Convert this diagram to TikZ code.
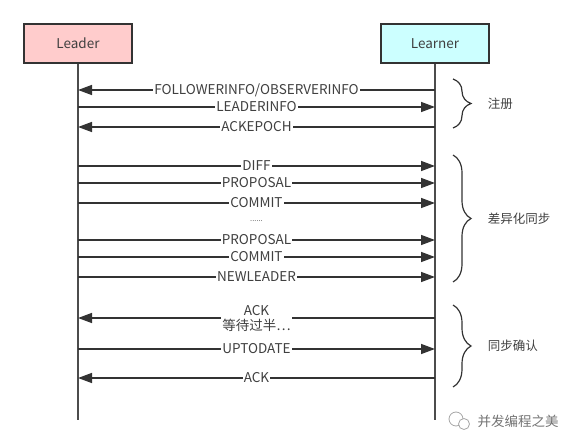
\documentclass[tikz,border=0pt]{standalone}
\usepackage{fontspec}
\setmainfont{Noto Sans CJK SC}
\usepackage{tikz}
\usetikzlibrary{arrows.meta,positioning,decorations.pathreplacing}
\tikzset{>={Triangle[length=14pt,width=10pt]}}
\definecolor{inkgray}{HTML}{333333}
\definecolor{leaderpink}{HTML}{FFCCCC}
\definecolor{learnercyan}{HTML}{CCFFFF}
\tikzset{
  % boxes at the top of the two lifelines
  actor/.style={draw=inkgray, line width=1.5pt, minimum width=108pt, minimum height=39pt,
    font=\fontsize{13.5}{15}\selectfont, text=black!75},
  lifeline/.style={draw=black!70, line width=1.5pt},
  msg/.style={draw=inkgray, line width=1.5pt},
  tag/.style={fill=white, inner sep=1pt, align=center, font=\fontsize{13.5}{15}\selectfont, text=black!75},
  phase/.style={draw=inkgray, line width=1.2pt, decorate, decoration={brace, amplitude=18pt}},
  phasetag/.style={anchor=west, font=\fontsize{12.5}{14}\selectfont, text=black!75},
}

\begin{document}
\begin{tikzpicture}[x=1pt,y=-1pt]
                \useasboundingbox (0,0) rectangle (579,446);

                \node[actor, fill=leaderpink] (leader) at (78,43.5) {Leader};
                \node[actor, fill=learnercyan] (learner) at (435,43.5) {Learner};

                \coordinate (leaderend) at (78,420);
                \coordinate (learnerend) at (435,420);
                \draw[lifeline] (leader.south) -- (leaderend);
                \draw[lifeline] (learner.south) -- (learnerend);

                \foreach \y/\dir/\txt [count=\i] in {90/<-/{FOLLOWERINFO/OBSERVERINFO}, 107/->/LEADERINFO,
                  127/<-/ACKEPOCH, 166/->/DIFF, 183/->/PROPOSAL, 203/->/COMMIT, 240/->/PROPOSAL,
                  257/->/COMMIT, 277/->/NEWLEADER, 318/<-/{ACK\\等待过半\ldots}, 349/->/UPTODATE, 378/<-/ACK}
                {
                \coordinate (from\i) at (78,\y);
                \coordinate (to\i) at (435,\y);
                \draw[msg,\dir] (from\i) -- node[tag] (msg\i) {\txt} (to\i);
                }
                \node[text=black!60, font=\fontsize{7.5}{8}\selectfont] (gap) at (256.5,221) {......};

                \coordinate (reg top) at (453,79);
                \coordinate (reg bot) at (453,128);
                \draw[phase] (reg top) -- node[right=31pt, phasetag] (reg) {注册} (reg bot);

                \coordinate (diff top) at (453,155);
                \coordinate (diff bot) at (453,282);
                \draw[phase] (diff top) -- node[right=31pt, phasetag] (diff) {差异化同步} (diff bot);

                \coordinate (ack top) at (453,305);
                \coordinate (ack bot) at (453,387);
                \draw[phase] (ack top) -- node[right=31pt, phasetag] (ack) {同步确认} (ack bot);

                %\node at (470,420) {wechat};
                \draw[black!35, line width=0.8pt] (456,419) circle (7);
                \draw[black!35, line width=0.8pt, fill=white] (464,424) circle (5.5);
                \node[anchor=west, text=black!55, font=\fontsize{13.5}{15}\selectfont] (mark) at (474,421) {并发编程之美};
            \end{tikzpicture}
\end{document}
